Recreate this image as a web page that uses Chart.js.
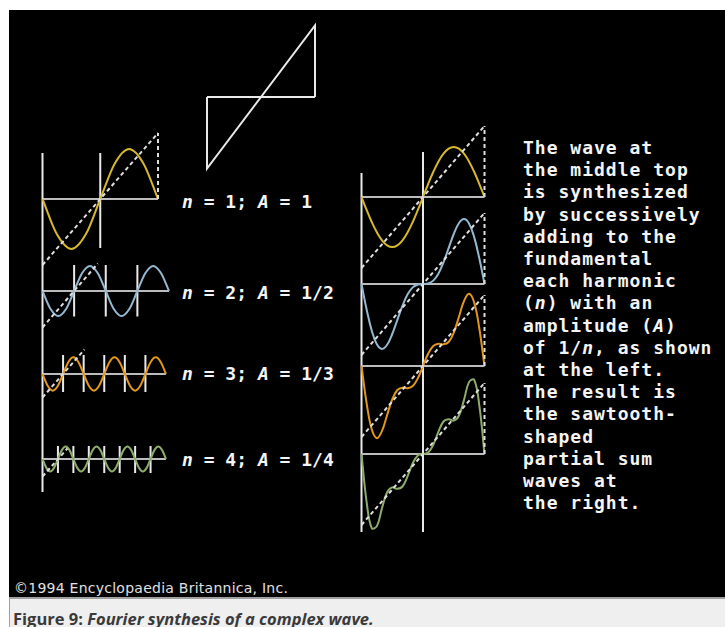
<!DOCTYPE html>
<html>
<head>
<meta charset="utf-8">
<title>Fourier synthesis of a complex wave</title>
<script src="https://cdn.jsdelivr.net/npm/chart.js@4.4.1/dist/chart.umd.min.js"></script>
<style>
  html, body { margin: 0; padding: 0; background: #fff; }
  body { position: relative; width: 725px; height: 627px; overflow: hidden; }
  #plate { position: absolute; left: 9px; top: 10px; width: 716px; height: 587px; background: #000; }
  #captionBar {
    position: absolute; left: 9px; top: 597px; width: 716px; height: 30px;
    background: #efefef; border-top: 2px solid #a0a0a0; border-left: 1px solid #a0a0a0;
    box-sizing: border-box;
  }
  canvas { position: absolute; }
  .mac {
    position: absolute; color: #f4f4f4; font-family: "DejaVu Sans Mono", monospace;
    font-weight: bold; font-size: 18px; white-space: pre;
  }
  #notes { left: 523px; top: 137px; line-height: 22.2px; letter-spacing: 1px; }
  .lbl { left: 182px; line-height: 22px; }
  #credit {
    position: absolute; left: 14px; top: 580px; font-family: "DejaVu Sans", sans-serif;
    font-size: 14px; letter-spacing: 0.25px; color: #e0e0e0; white-space: pre;
  }
  #caption {
    position: absolute; left: 13px; top: 608px; font-family: "Open Sans", sans-serif;
    font-weight: bold; font-size: 16.5px; line-height: 22px; color: #3a3a3a; white-space: pre;
  }
</style>
</head>
<body>
<div id="plate"></div>
<div id="captionBar"></div>

<canvas id="sawtooth"></canvas>
<canvas id="row1"></canvas>
<canvas id="row2"></canvas>
<canvas id="row3"></canvas>
<canvas id="row4"></canvas>
<canvas id="sum1"></canvas>
<canvas id="sum2"></canvas>
<canvas id="sum3"></canvas>
<canvas id="sum4"></canvas>

<div class="mac lbl" style="top:191px"><i>n</i> = 1; <i>A</i> = 1</div>
<div class="mac lbl" style="top:282px"><i>n</i> = 2; <i>A</i> = 1/2</div>
<div class="mac lbl" style="top:363px"><i>n</i> = 3; <i>A</i> = 1/3</div>
<div class="mac lbl" style="top:449px"><i>n</i> = 4; <i>A</i> = 1/4</div>

<div class="mac" id="notes">The wave at
the middle top
is synthesized
by successively
adding to the
fundamental
each harmonic
(<i>n</i>) with an
amplitude (<i>A</i>)
of 1/<i>n</i>, as shown
at the left.
The result is
the sawtooth-
shaped
partial sum
waves at
the right.</div>

<div id="credit">©1994 Encyclopaedia Britannica, Inc.</div>
<div id="caption">Figure 9: <i>Fourier synthesis of a complex wave.</i></div>

<script>
// the sawtooth at the top: one period, drawn as a closed outline
const sawX = [-180, -180, 180, 180];
const sawY = [0, -1.43, 1.43, 0];

// single harmonics, phase in degrees (45° steps), amplitude A = 1/n
const phaseSteps = [0, 45, 90, 135, 180, 225, 270, 315, 360, 405, 450, 495, 540, 585, 630, 675, 720,
  765, 810, 855, 900, 945, 990, 1035, 1080, 1125, 1170, 1215, 1260, 1305, 1350, 1395, 1440];
const harm1 = [0, -0.707, -1, -0.707, 0, 0.707, 1, 0.707, 0];
const harm2 = [0, -0.354, -0.5, -0.354, 0, 0.354, 0.5, 0.354, 0, -0.354, -0.5, -0.354, 0, 0.354, 0.5, 0.354, 0];
const harm3 = [0, -0.236, -0.333, -0.236, 0, 0.236, 0.333, 0.236,
  0, -0.236, -0.333, -0.236, 0, 0.236, 0.333, 0.236,
  0, -0.236, -0.333, -0.236, 0, 0.236, 0.333, 0.236, 0];
const harm4 = [0, -0.177, -0.25, -0.177, 0, 0.177, 0.25, 0.177,
  0, -0.177, -0.25, -0.177, 0, 0.177, 0.25, 0.177,
  0, -0.177, -0.25, -0.177, 0, 0.177, 0.25, 0.177,
  0, -0.177, -0.25, -0.177, 0, 0.177, 0.25, 0.177, 0];

// partial sums 1..n, sampled every 15° over -180..180
const sumAngles = [-180, -165, -150, -135, -120, -105, -90, -75, -60, -45, -30, -15, 0,
  15, 30, 45, 60, 75, 90, 105, 120, 135, 150, 165, 180];
const sumN1 = [0, -0.259, -0.5, -0.707, -0.866, -0.966, -1, -0.966, -0.866, -0.707, -0.5, -0.259, 0,
  0.259, 0.5, 0.707, 0.866, 0.966, 1, 0.966, 0.866, 0.707, 0.5, 0.259, 0];
const sumN2 = [0, -0.509, -0.933, -1.207, -1.299, -1.216, -1, -0.716, -0.433, -0.207, -0.067, -0.009, 0,
  0.009, 0.067, 0.207, 0.433, 0.716, 1, 1.216, 1.299, 1.207, 0.933, 0.509, 0];
const sumN3 = [0, -0.745, -1.266, -1.443, -1.299, -0.98, -0.667, -0.48, -0.433, -0.443, -0.4, -0.245, 0,
  0.245, 0.4, 0.443, 0.433, 0.48, 0.667, 0.98, 1.299, 1.443, 1.266, 0.745, 0];
const sumN4 = [0, -0.961, -1.483, -1.443, -1.083, -0.764, -0.667, -0.697, -0.65, -0.443, -0.184, -0.028, 0,
  0.028, 0.184, 0.443, 0.65, 0.697, 0.667, 0.764, 1.083, 1.443, 1.483, 0.961, 0];

// guide lines of the harmonic rows
const rowSpan = [360, 720, 1080, 1440];
const rowTicks = [[180], [180, 360, 540], [180, 360, 540, 720, 900], [180, 360, 540, 720, 900, 1080, 1260]];
const rowTickExtent = [[0.92, -0.98], [0.52, -0.51], [0.38, -0.36], [0.26, -0.28]];
const rowSpine = [[0.92, -1.12], [0.72, -0.98], [0.68, -0.92], [0.78, -0.66]];
const rowRampX = [[0, 360], [0, 315], [0, 367], [0, 290]];
const rowRampY = [[-1.32, 1.32], [-0.73, 0.55], [-0.47, 0.49], [-0.35, 0.21]];

// guide lines of the partial sum boxes
const boxLeftEdge = [[0.48, -1.74], [0, -1.64], [0, -1.76], [0, -1.56]];
const boxMidLine = [[0.9, -1.74], [0, -1.64], [0, -1.76], [0, -1.56]];
const rampX = [-180, 180];
const rampY = [-1.42, 1.42];

const WHITE = "#e9e9e9";
const AXIS = "#bcbcbc";
const DASH = "#dedede";
const waveColors = ["#d6b82c", "#94b8d0", "#e2961c", "#8dac6c"];

function pts(xs, ys) {
  return xs.map((x, i) => ({ x: x, y: ys[i] }));
}

function line(xs, ys, color, extra) {
  return Object.assign({
    data: pts(xs, ys),
    borderColor: color,
    borderWidth: 2,
    pointRadius: 0,
    tension: 0,
    fill: false,
    order: 3
  }, extra || {});
}

// one canvas per panel; scale limits are worked out so that data 0 lands on (x0, y0)
function panel(id, box, datasets) {
  const cv = document.getElementById(id);
  cv.width = box.w;
  cv.height = box.h;
  cv.style.left = box.left + "px";
  cv.style.top = box.top + "px";
  new Chart(cv, {
    type: "line",
    data: { datasets: datasets },
    options: {
      responsive: false,
      animation: false,
      events: [],
      layout: { padding: 0 },
      plugins: { legend: { display: false }, tooltip: { enabled: false } },
      scales: {
        x: {
          type: "linear", display: false,
          min: (box.left - box.x0) / box.kx,
          max: (box.left + box.w - box.x0) / box.kx
        },
        y: {
          type: "linear", display: false,
          min: (box.y0 - box.top - box.h) / box.ky,
          max: (box.y0 - box.top) / box.ky
        }
      }
    }
  });
}

// top sawtooth
panel("sawtooth", { left: 195, top: 15, w: 135, h: 165, x0: 261, kx: 54 / 180, y0: 97, ky: 50 }, [
  line([-180, 180], [0, 0], WHITE),
  line(sawX, sawY, WHITE, { borderJoinStyle: "miter" })
]);

// left column: the harmonics one by one
const rowWaves = [harm1, harm2, harm3, harm4];
const rowLayout = [
  { left: 28, top: 120, w: 150, h: 160, x0: 42.5, kx: 115.5 / 360, y0: 199, ky: 50 },
  { left: 28, top: 245, w: 150, h: 100, x0: 42.5, kx: 126.5 / 720, y0: 291, ky: 50 },
  { left: 28, top: 330, w: 150, h: 95, x0: 42.5, kx: 123.5 / 1080, y0: 374, ky: 50 },
  { left: 28, top: 410, w: 150, h: 95, x0: 42.5, kx: 123.5 / 1440, y0: 459, ky: 50 }
];

rowWaves.forEach((wave, i) => {
  const ds = [
    line([0, 0], rowSpine[i], WHITE),
    line([0, rowSpan[i]], [0, 0], AXIS)
  ];
  rowTicks[i].forEach((t) => ds.push(line([t, t], rowTickExtent[i], WHITE)));
  ds.push(line(phaseSteps.slice(0, wave.length), wave, waveColors[i],
    { cubicInterpolationMode: "monotone", order: 2 }));
  ds.push(line(rowRampX[i], rowRampY[i], DASH, { borderDash: [4, 3], order: 1 }));
  if (i === 0) {
    ds.push(line([360, 360], [0, 1.32], DASH, { borderDash: [4, 3], order: 1 }));
  }
  panel("row" + (i + 1), rowLayout[i], ds);
});

// right column: partial sums against the target ramp
const boxSums = [sumN1, sumN2, sumN3, sumN4];
const boxAxisY = [197, 284, 366, 454];

boxSums.forEach((sum, i) => {
  const ds = [
    line([-180, -180], boxLeftEdge[i], WHITE),
    line([0, 0], boxMidLine[i], WHITE),
    line([-180, 180], [0, 0], AXIS),
    line(sumAngles, sum, waveColors[i], { tension: 0.4, order: 2 }),
    line(rampX, rampY, DASH, { borderDash: [4, 3], order: 1 }),
    line([180, 180], [0, rampY[1]], DASH, { borderDash: [4, 3], order: 1 })
  ];
  panel("sum" + (i + 1), {
    left: 350, top: boxAxisY[i] - 90, w: 145, h: 185,
    x0: 423, kx: 61.5 / 180, y0: boxAxisY[i], ky: 50
  }, ds);
});
</script>
</body>
</html>
